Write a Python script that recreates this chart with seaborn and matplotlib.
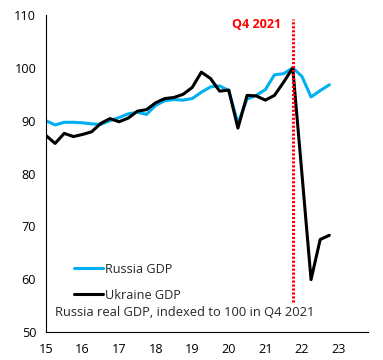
import numpy as np
import pandas as pd
import seaborn as sns
import matplotlib
matplotlib.use("Agg")
import matplotlib.pyplot as plt

sns.set_style("white")
plt.rcParams["font.family"] = ["Open Sans", "DejaVu Sans"]

# quarterly index, Q4 2021 = 100 (Q1 2015 .. Q4 2022)
russia = [90.0, 89.2, 89.7, 89.7, 89.6, 89.4, 89.3, 90.0, 90.6, 91.3, 91.6, 91.2,
          92.9, 93.8, 94.0, 93.9, 94.2, 95.4, 96.4, 96.6, 95.7, 89.5, 94.1, 94.8,
          95.9, 98.7, 98.9, 100.0, 98.4, 94.5, 95.7, 96.8]
ukraine = [87.2, 85.7, 87.6, 87.0, 87.4, 87.9, 89.5, 90.4, 89.8, 90.5, 91.8, 92.1,
           93.4, 94.2, 94.4, 95.0, 96.3, 99.2, 98.0, 95.6, 95.8, 88.6, 94.8, 94.7,
           93.9, 94.8, 97.3, 100.0, 80.0, 59.9, 67.5, 68.3]
quarters = 15 + np.arange(len(russia)) / 4
q4_2021 = quarters[27]

df = pd.concat([
    pd.DataFrame({"year": quarters, "value": russia, "series": "Russia GDP"}),
    pd.DataFrame({"year": quarters, "value": ukraine, "series": "Ukraine GDP"}),
])

fig = plt.figure(figsize=(3.83, 3.6), dpi=100)
ax = fig.add_axes([0.120, 0.078, 0.842, 0.880])

sns.lineplot(data=df, x="year", y="value", hue="series",
             palette={"Russia GDP": "#00B0F0", "Ukraine GDP": "black"},
             linewidth=2.2, ax=ax)

ax.axvline(q4_2021, ymin=(55.6 - 50) / 60, ymax=(109.2 - 50) / 60,
           color="red", linewidth=2.2, linestyle=(0, (0.7, 0.6)))
ax.text(q4_2021 - 0.33, 108.2, "Q4 2021", color="red", fontweight="bold",
        fontsize=9, ha="right", va="center")

ax.set_xlim(15, 23.82)
ax.set_ylim(50, 110)
ax.set_xticks(range(15, 24))
ax.set_yticks(range(50, 111, 10))
ax.set_xlabel("")
ax.set_ylabel("")
ax.tick_params(axis="both", direction="out", length=4, width=0.8,
               labelsize=9.1, pad=3, colors="black")
ax.tick_params(axis="x", pad=4)
for side in ["top", "right"]:
    ax.spines[side].set_visible(False)
for side in ["left", "bottom"]:
    ax.spines[side].set_color("black")
    ax.spines[side].set_linewidth(0.8)

ax.legend(loc="lower left", bbox_to_anchor=(0.051, 0.06), frameon=False,
          fontsize=9.1, handlelength=2.3, handletextpad=0.2, labelspacing=1.0)
ax.text(15.24, 53.6, "Russia real GDP, indexed to 100 in Q4 2021",
        fontsize=9.3, ha="left", va="center")

fig.savefig("out.png", dpi=100)
